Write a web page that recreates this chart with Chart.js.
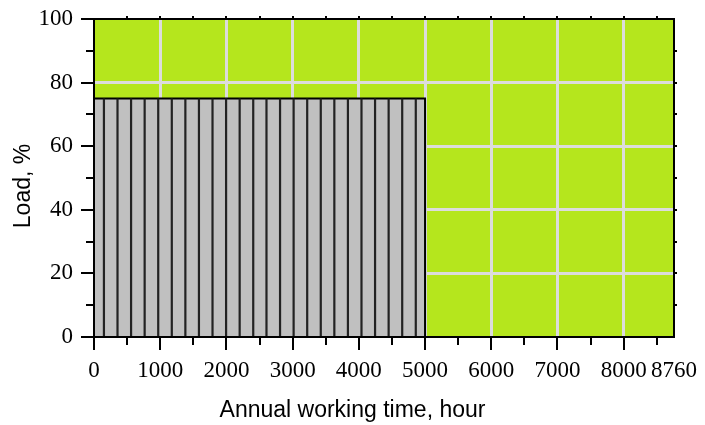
<!DOCTYPE html>
<html>
<head>
<meta charset="utf-8">
<script src="https://cdn.jsdelivr.net/npm/chart.js@4.4.1/dist/chart.umd.min.js"></script>
<style>
  html, body { margin: 0; padding: 0; background: #ffffff; }
  #wrap { width: 705px; height: 425px; }
</style>
</head>
<body>
<div id="wrap"><canvas id="c" width="705" height="425"></canvas></div>
<script>
// ---- data ----
const xMajorTicks = [0, 1000, 2000, 3000, 4000, 5000, 6000, 7000, 8000, 8760];
const xMinorTicks = [500, 1500, 2500, 3500, 4500, 5500, 6500, 7500, 8500];
const yMajorTicks = [0, 20, 40, 60, 80, 100];
const yMinorTicks = [10, 30, 50, 70, 90];
const barStartHour = 0;
const barEndHour = 5000;
const barLoad = 75;
const hatchHours = [150, 355, 560, 765, 970, 1175, 1380, 1585, 1790, 1995, 2200, 2405,
                    2605, 2810, 3015, 3220, 3425, 3630, 3835, 4040, 4245, 4450, 4655, 4860];
const xMax = 8760;
const yMax = 100;
const xTitle = 'Annual working time, hour';
const yTitle = 'Load, %';

// ---- datasets built from data ----
const barOutline = [
  {x: barStartHour, y: 0},
  {x: barStartHour, y: barLoad},
  {x: barEndHour, y: barLoad},
  {x: barEndHour, y: 0}
];
const hatchPoints = [];
hatchHours.forEach(h => {
  hatchPoints.push({x: h, y: 0});
  hatchPoints.push({x: h, y: barLoad});
  hatchPoints.push({x: h, y: null});
});

const GREEN = '#b5e61d';
const GRID = '#dcdcdc';

const bgPlugin = {
  id: 'bg',
  beforeDraw(chart) {
    const {ctx, chartArea: a} = chart;
    ctx.save();
    ctx.fillStyle = GREEN;
    ctx.fillRect(a.left, a.top, a.right - a.left, a.bottom - a.top);
    ctx.restore();
  }
};

const framePlugin = {
  id: 'frame',
  afterDraw(chart) {
    const {ctx, chartArea: a} = chart;
    const xs = chart.scales.x, ys = chart.scales.y;
    ctx.save();
    ctx.strokeStyle = '#000';
    ctx.lineWidth = 2;
    ctx.beginPath();
    ctx.rect(a.left, a.top, a.right - a.left, a.bottom - a.top);
    ctx.stroke();
    ctx.beginPath();
    // bottom ticks
    xMajorTicks.forEach(v => {
      if (v === xMax) return;
      const px = Math.round(xs.getPixelForValue(v));
      ctx.moveTo(px, a.bottom); ctx.lineTo(px, a.bottom + 13);
    });
    xMinorTicks.forEach(v => {
      const px = Math.round(xs.getPixelForValue(v));
      ctx.moveTo(px, a.bottom); ctx.lineTo(px, a.bottom + 8);
    });
    // top ticks (small)
    xMajorTicks.concat(xMinorTicks).forEach(v => {
      if (v === xMax || v === 0) return;
      const px = Math.round(xs.getPixelForValue(v));
      ctx.moveTo(px, a.top); ctx.lineTo(px, a.top - 3);
    });
    // left ticks
    yMajorTicks.forEach(v => {
      const py = Math.round(ys.getPixelForValue(v));
      ctx.moveTo(a.left, py); ctx.lineTo(a.left - 13, py);
    });
    yMinorTicks.forEach(v => {
      const py = Math.round(ys.getPixelForValue(v));
      ctx.moveTo(a.left, py); ctx.lineTo(a.left - 8, py);
    });
    // right ticks (small)
    yMajorTicks.concat(yMinorTicks).forEach(v => {
      if (v === 0 || v === yMax) return;
      const py = Math.round(ys.getPixelForValue(v));
      ctx.moveTo(a.right, py); ctx.lineTo(a.right + 3, py);
    });
    ctx.stroke();

    // y axis title
    ctx.translate(24, (a.top + a.bottom) / 2 + 8);
    ctx.rotate(-Math.PI / 2);
    ctx.fillStyle = '#000';
    ctx.font = '23px "Liberation Sans"';
    ctx.textAlign = 'center';
    ctx.textBaseline = 'middle';
    ctx.fillText(yTitle, 0, 0);
    ctx.restore();
  }
};

new Chart(document.getElementById('c'), {
  type: 'line',
  data: {
    datasets: [
      {
        label: 'hatch',
        data: hatchPoints,
        borderColor: '#222222',
        borderWidth: 2.2,
        pointRadius: 0,
        spanGaps: false,
        fill: false,
        order: 1
      },
      {
        label: 'load',
        data: barOutline,
        borderColor: '#000',
        borderWidth: 2,
        backgroundColor: '#c0c0c0',
        pointRadius: 0,
        fill: 'origin',
        tension: 0,
        order: 2
      }
    ]
  },
  options: {
    responsive: false,
    animation: false,
    events: [],
    layout: { padding: { top: 19, right: 0, left: 0, bottom: 0 } },
    plugins: {
      legend: { display: false },
      tooltip: { enabled: false },
      title: {
        display: true,
        position: 'bottom',
        text: xTitle,
        color: '#000',
        font: { family: 'Liberation Sans', size: 23, weight: 'normal' },
        padding: { top: 0, bottom: 1 }
      }
    },
    scales: {
      x: {
        type: 'linear',
        min: 0,
        max: xMax,
        afterBuildTicks(scale) { scale.ticks = xMajorTicks.map(v => ({value: v})); },
        afterFit(scale) { scale.height = 88 - 28.6; scale.paddingLeft = 0; scale.paddingRight = 31; },
        border: { display: false },
        grid: {
          drawTicks: false,
          lineWidth: 3,
          color: ctx => (ctx.tick && (ctx.tick.value === 0 || ctx.tick.value === xMax)) ? 'rgba(0,0,0,0)' : GRID
        },
        ticks: {
          autoSkip: false,
          maxRotation: 0,
          padding: 20,
          color: '#000',
          font: { family: 'Liberation Serif', size: 23 },
          callback: v => String(v)
        }
      },
      y: {
        type: 'linear',
        min: 0,
        max: yMax,
        afterBuildTicks(scale) { scale.ticks = yMajorTicks.map(v => ({value: v})); },
        afterFit(scale) { scale.width = 94; scale.paddingTop = 0; scale.paddingBottom = 0; },
        border: { display: false },
        grid: {
          drawTicks: false,
          lineWidth: 3,
          color: ctx => (ctx.tick && (ctx.tick.value === 0 || ctx.tick.value === yMax)) ? 'rgba(0,0,0,0)' : GRID
        },
        ticks: {
          padding: 21,
          color: '#000',
          font: { family: 'Liberation Serif', size: 23 },
          callback: v => String(v)
        },
        title: { display: false }
      }
    }
  },
  plugins: [bgPlugin, framePlugin]
});
</script>
</body>
</html>
